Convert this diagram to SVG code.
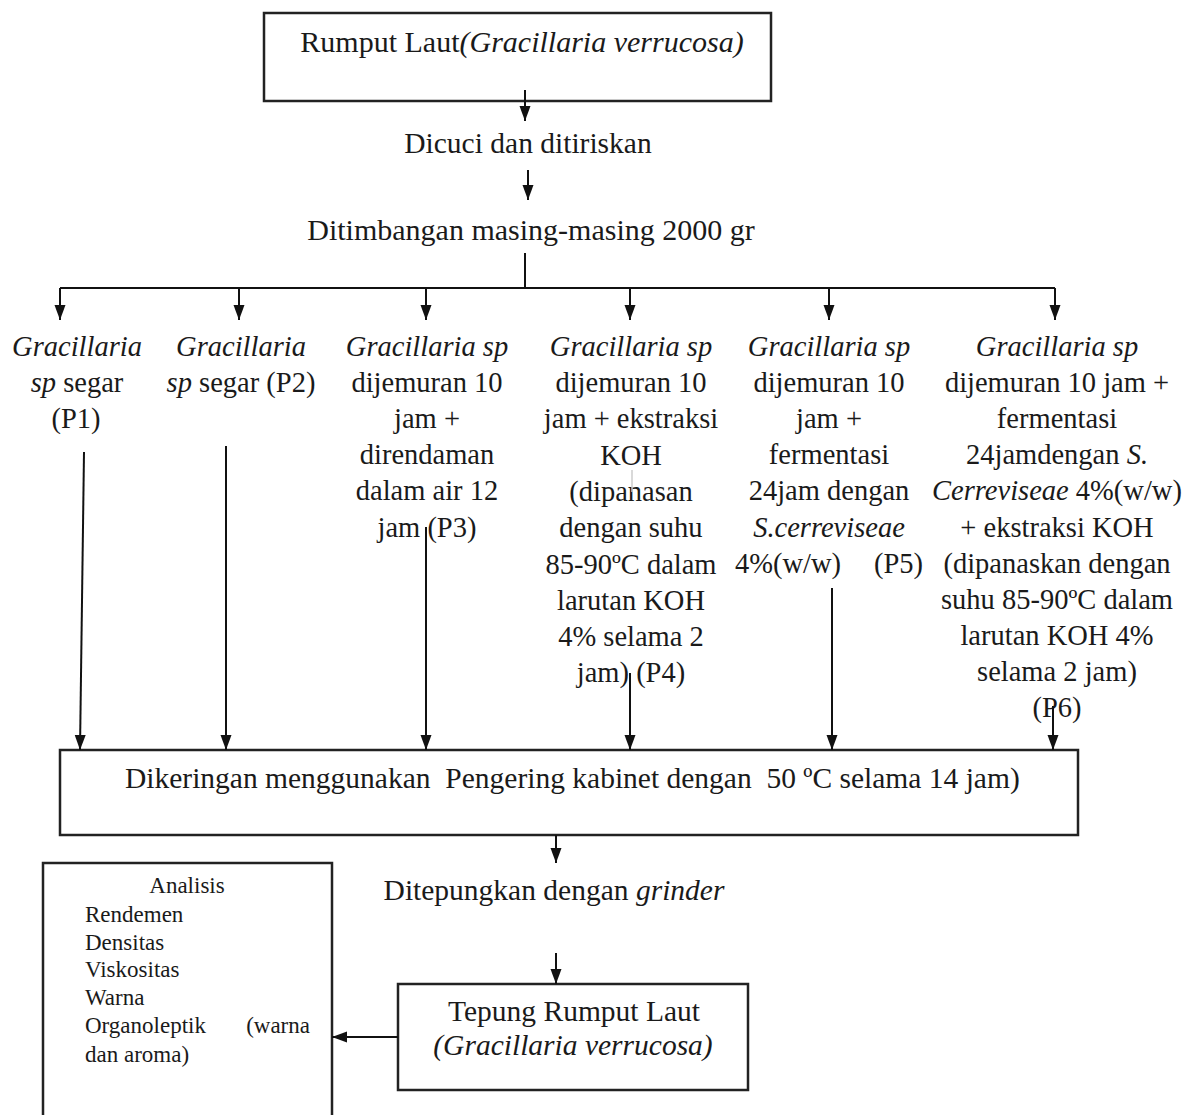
<svg xmlns="http://www.w3.org/2000/svg" width="1188" height="1115" viewBox="0 0 1188 1115">
<style>
text{font-family:"Liberation Serif","Times New Roman",serif;fill:#1a1a1a}
.c{text-anchor:middle}
.m{font-size:29.5px}
.col{font-size:28.5px;text-anchor:middle}
.sm{font-size:23px}
.i{font-style:italic}
.box{fill:#fff;stroke:#222;stroke-width:2.5}
.ln{fill:none;stroke:#111;stroke-width:2}
</style>
<defs>
<marker id="ah" viewBox="0 0 15 12" refX="15" refY="6" markerWidth="15" markerHeight="12" markerUnits="userSpaceOnUse" orient="auto">
<path d="M0,0.5 L15,6 L0,11.5 z" fill="#111"/>
</marker>
</defs>
<rect width="1188" height="1115" fill="#fff"/>

<g id="n-rumput">
<rect class="box" x="264" y="13" width="507" height="88"/>
<text class="m c" x="522" y="52" style="font-size:30px">Rumput Laut<tspan class="i">(Gracillaria verrucosa)</tspan></text>
</g>
<g id="n-dicuci"><text class="m c" x="528" y="153">Dicuci dan ditiriskan</text></g>
<g id="n-timbang"><text class="m c" x="531" y="240" style="font-size:30px">Ditimbangan masing-masing 2000 gr</text></g>

<g id="n-p1">
<text class="col i" x="77" y="356">Gracillaria</text>
<text class="col" x="77" y="392"><tspan class="i">sp</tspan> segar</text>
<text class="col" x="76" y="428">(P1)</text>
</g>
<g id="n-p2">
<text class="col i" x="241" y="356">Gracillaria</text>
<text class="col" x="241" y="392"><tspan class="i">sp</tspan> segar (P2)</text>
</g>
<g id="n-p3">
<text class="col i" x="427" y="356">Gracillaria sp</text>
<text class="col" x="427" y="392">dijemuran 10</text>
<text class="col" x="427" y="428">jam +</text>
<text class="col" x="427" y="464">direndaman</text>
<text class="col" x="427" y="500">dalam air 12</text>
<text class="col" x="427" y="537">jam (P3)</text>
</g>
<g id="n-p4">
<text class="col i" x="631" y="356">Gracillaria sp</text>
<text class="col" x="631" y="392">dijemuran 10</text>
<text class="col" x="631" y="428">jam + ekstraksi</text>
<text class="col" x="631" y="465">KOH</text>
<text class="col" x="631" y="501">(dipanasan</text>
<text class="col" x="631" y="537">dengan suhu</text>
<text class="col" x="631" y="574">85-90ºC dalam</text>
<text class="col" x="631" y="610">larutan KOH</text>
<text class="col" x="631" y="646">4% selama 2</text>
<text class="col" x="631" y="682">jam) (P4)</text>
</g>
<g id="n-p5">
<text class="col i" x="829" y="356">Gracillaria sp</text>
<text class="col" x="829" y="392">dijemuran 10</text>
<text class="col" x="829" y="428">jam +</text>
<text class="col" x="829" y="464">fermentasi</text>
<text class="col" x="829" y="500">24jam dengan</text>
<text class="col i" x="829" y="537">S.cerreviseae</text>
<text class="col" x="735" y="573" style="text-anchor:start">4%(w/w)</text>
<text class="col" x="923" y="573" style="text-anchor:end">(P5)</text>
</g>
<g id="n-p6">
<text class="col i" x="1057" y="356">Gracillaria sp</text>
<text class="col" x="1057" y="392">dijemuran 10 jam +</text>
<text class="col" x="1057" y="428">fermentasi</text>
<text class="col" x="1057" y="464">24jamdengan <tspan class="i">S.</tspan></text>
<text class="col" x="1057" y="500"><tspan class="i">Cerreviseae</tspan> 4%(w/w)</text>
<text class="col" x="1057" y="537">+ ekstraksi KOH</text>
<text class="col" x="1057" y="573">(dipanaskan dengan</text>
<text class="col" x="1057" y="609">suhu 85-90ºC dalam</text>
<text class="col" x="1057" y="645">larutan KOH 4%</text>
<text class="col" x="1057" y="681">selama 2 jam)</text>
<text class="col" x="1057" y="717">(P6)</text>
</g>

<g id="n-kering">
<rect class="box" x="60" y="750" width="1018" height="85"/>
<text class="m" x="125" y="788" xml:space="preserve" style="white-space:pre">Dikeringan menggunakan  Pengering kabinet dengan  50 ºC selama 14 jam)</text>
</g>
<g id="n-tepungkan"><text class="m c" x="554" y="900">Ditepungkan dengan <tspan class="i">grinder</tspan></text></g>
<g id="n-tepung">
<rect class="box" x="398" y="984" width="350" height="106"/>
<text class="m c" x="574" y="1021">Tepung Rumput Laut</text>
<text class="m c i" x="573" y="1055">(Gracillaria verrucosa)</text>
</g>
<g id="n-analisis">
<rect class="box" x="43" y="863" width="289" height="280"/>
<text class="sm c" x="187" y="893">Analisis</text>
<text class="sm" x="85" y="922">Rendemen</text>
<text class="sm" x="85" y="950">Densitas</text>
<text class="sm" x="85" y="977">Viskositas</text>
<text class="sm" x="85" y="1005">Warna</text>
<text class="sm" x="85" y="1033">Organoleptik</text>
<text class="sm" x="310" y="1033" style="text-anchor:end">(warna</text>
<text class="sm" x="85" y="1062">dan aroma)</text>
</g>

<g id="connectors">
<path class="ln" d="M525,90 V121" marker-end="url(#ah)"/>
<path class="ln" d="M528,170 V200" marker-end="url(#ah)"/>
<path class="ln" d="M525,253 V288"/>
<path class="ln" d="M60,288 H1055"/>
<path class="ln" d="M60,288 V320" marker-end="url(#ah)"/>
<path class="ln" d="M239,288 V320" marker-end="url(#ah)"/>
<path class="ln" d="M426,288 V320" marker-end="url(#ah)"/>
<path class="ln" d="M630,288 V320" marker-end="url(#ah)"/>
<path class="ln" d="M829,288 V320" marker-end="url(#ah)"/>
<path class="ln" d="M1055,288 V320" marker-end="url(#ah)"/>
<path class="ln" d="M84,452 L80,750" marker-end="url(#ah)"/>
<path class="ln" d="M226,446 V750" marker-end="url(#ah)"/>
<path class="ln" d="M426,527 V750" marker-end="url(#ah)"/>
<path class="ln" d="M630,673 V750" marker-end="url(#ah)"/>
<path class="ln" d="M832,588 V750" marker-end="url(#ah)"/>
<path class="ln" d="M1053,706 V750" marker-end="url(#ah)"/>
<path class="ln" d="M632,470 V492" style="stroke:#ccc;stroke-width:1.5"/>
<path class="ln" d="M556,835 V863" marker-end="url(#ah)"/>
<path class="ln" d="M556,953 V984" marker-end="url(#ah)"/>
<path class="ln" d="M398,1037 H332" marker-end="url(#ah)"/>
</g>
</svg>
